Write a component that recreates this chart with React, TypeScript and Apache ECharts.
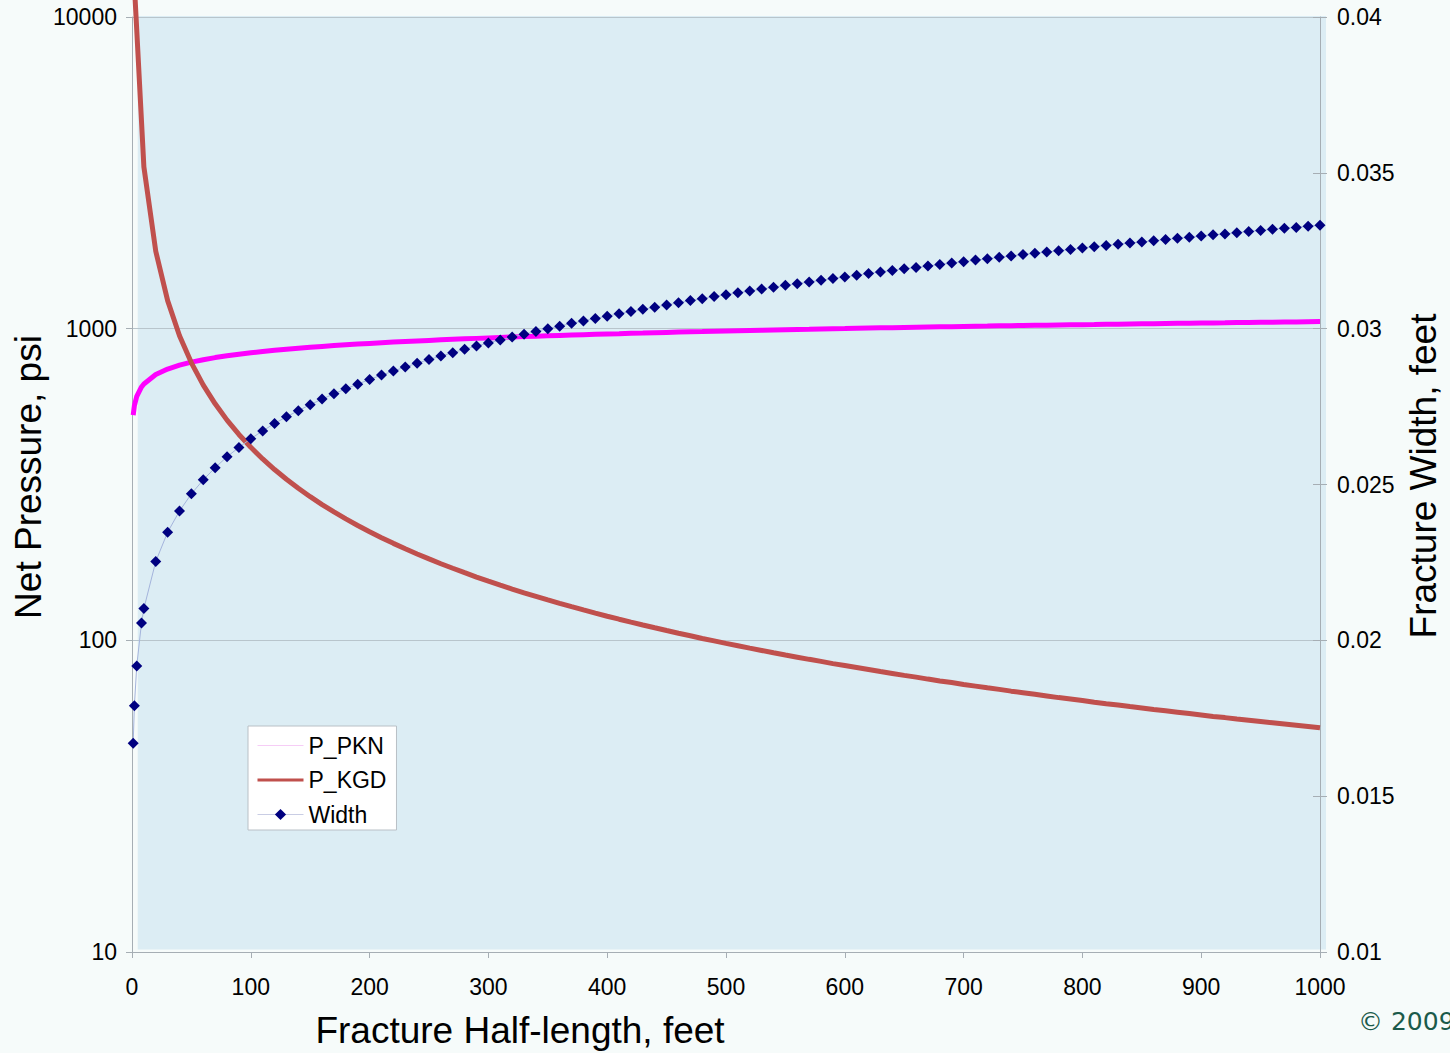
import React, { useEffect, useRef } from "react";
import * as echarts from "echarts";

// Fracture half-length (ft) for P_PKN and Width
const halfLength = [
  1, 2, 4, 8,
  10, 20, 30, 40, 50, 60, 70, 80, 90, 100,
  110, 120, 130, 140, 150, 160, 170, 180, 190, 200,
  210, 220, 230, 240, 250, 260, 270, 280, 290, 300,
  310, 320, 330, 340, 350, 360, 370, 380, 390, 400,
  410, 420, 430, 440, 450, 460, 470, 480, 490, 500,
  510, 520, 530, 540, 550, 560, 570, 580, 590, 600,
  610, 620, 630, 640, 650, 660, 670, 680, 690, 700,
  710, 720, 730, 740, 750, 760, 770, 780, 790, 800,
  810, 820, 830, 840, 850, 860, 870, 880, 890, 900,
  910, 920, 930, 940, 950, 960, 970, 980, 990, 1000,
];

// Fracture width (ft), right axis
const widthFt = [
  0.0167, 0.0179, 0.01918, 0.02056,
  0.02102, 0.02253, 0.02347, 0.02415, 0.0247, 0.02515, 0.02554, 0.02589, 0.02619, 0.02647,
  0.02672, 0.02696, 0.02717, 0.02737, 0.02756, 0.02774, 0.02791, 0.02807, 0.02822, 0.02837,
  0.02851, 0.02864, 0.02877, 0.02889, 0.02901, 0.02912, 0.02923, 0.02934, 0.02944, 0.02954,
  0.02964, 0.02973, 0.02982, 0.02991, 0.03, 0.03008, 0.03017, 0.03025, 0.03033, 0.0304,
  0.03048, 0.03055, 0.03062, 0.03069, 0.03076, 0.03083, 0.0309, 0.03096, 0.03103, 0.03109,
  0.03115, 0.03121, 0.03127, 0.03133, 0.03139, 0.03144, 0.0315, 0.03155, 0.03161, 0.03166,
  0.03171, 0.03177, 0.03182, 0.03187, 0.03192, 0.03196, 0.03201, 0.03206, 0.03211, 0.03215,
  0.0322, 0.03224, 0.03229, 0.03233, 0.03238, 0.03242, 0.03246, 0.0325, 0.03254, 0.03259,
  0.03263, 0.03267, 0.03271, 0.03275, 0.03278, 0.03282, 0.03286, 0.0329, 0.03293, 0.03297,
  0.03301, 0.03304, 0.03308, 0.03312, 0.03315, 0.03319, 0.03322, 0.03325, 0.03329, 0.03332,
];

// PKN net pressure (psi), left axis
const pPKN = [
  528, 565.9, 606.5, 650.0,
  664.7, 712.4, 741.9, 763.5, 780.8, 795.2, 807.6, 818.5, 828.1, 836.8,
  844.9, 852.2, 859.1, 865.5, 871.5, 877.1, 882.4, 887.5, 892.3, 896.9,
  901.3, 905.5, 909.5, 913.4, 917.1, 920.7, 924.2, 927.6, 930.8, 934.0,
  937.1, 940.0, 942.9, 945.8, 948.5, 951.2, 953.8, 956.3, 958.8, 961.3,
  963.6, 966.0, 968.2, 970.5, 972.7, 974.8, 976.9, 978.9, 981.0, 982.9,
  984.9, 986.8, 988.7, 990.5, 992.4, 994.2, 995.9, 997.7, 999.4, 1001.0,
  1002.7, 1004.3, 1005.9, 1007.5, 1009.1, 1010.6, 1012.1, 1013.6, 1015.1, 1016.6,
  1018.0, 1019.4, 1020.9, 1022.2, 1023.6, 1025.0, 1026.3, 1027.6, 1028.9, 1030.3,
  1031.5, 1032.8, 1034.1, 1035.3, 1036.5, 1037.7, 1038.9, 1040.1, 1041.3, 1042.5,
  1043.6, 1044.7, 1045.9, 1047.0, 1048.1, 1049.2, 1050.3, 1051.4, 1052.4, 1053.5,
];

// Half-length points for KGD
const kgdHalfLength = [
  1,
  10, 20, 30, 40, 50, 60, 70, 80, 90, 100,
  110, 120, 130, 140, 150, 160, 170, 180, 190, 200,
  210, 220, 230, 240, 250, 260, 270, 280, 290, 300,
  310, 320, 330, 340, 350, 360, 370, 380, 390, 400,
  410, 420, 430, 440, 450, 460, 470, 480, 490, 500,
  510, 520, 530, 540, 550, 560, 570, 580, 590, 600,
  610, 620, 630, 640, 650, 660, 670, 680, 690, 700,
  710, 720, 730, 740, 750, 760, 770, 780, 790, 800,
  810, 820, 830, 840, 850, 860, 870, 880, 890, 900,
  910, 920, 930, 940, 950, 960, 970, 980, 990, 1000,
];

// KGD net pressure (psi), left axis
const pKGD = [
  15000,
  3306.2, 1771.7, 1230.0, 949.4, 776.7, 659.2, 573.9, 508.9, 457.7, 416.2,
  382.0, 353.2, 328.7, 307.5, 289.0, 272.7, 258.2, 245.2, 233.6, 223.1,
  213.5, 204.7, 196.7, 189.3, 182.5, 176.1, 170.3, 164.8, 159.6, 154.9,
  150.4, 146.1, 142.1, 138.4, 134.8, 131.4, 128.2, 125.2, 122.3, 119.5,
  116.9, 114.4, 112.0, 109.7, 107.5, 105.4, 103.4, 101.4, 99.6, 97.8,
  96.1, 94.4, 92.8, 91.2, 89.7, 88.3, 86.9, 85.6, 84.2, 83.0,
  81.8, 80.6, 79.4, 78.3, 77.2, 76.2, 75.1, 74.1, 73.2, 72.2,
  71.3, 70.4, 69.6, 68.7, 67.9, 67.1, 66.3, 65.5, 64.8, 64.1,
  63.3, 62.6, 62.0, 61.3, 60.7, 60.0, 59.4, 58.8, 58.2, 57.6,
  57.0, 56.5, 55.9, 55.4, 54.9, 54.4, 53.9, 53.4, 52.9, 52.4,
];

const FONT = "'Liberation Sans', Arial, Helvetica, sans-serif";
const AXIS_GREY = "#a6aeb4";
const GRID_GREY = "#b8c5cc";

export default function App() {
  const ref = useRef<HTMLDivElement>(null);

  useEffect(() => {
    document.body.style.margin = "0";
    document.body.style.background = "#f6fbfa";
    const chart = echarts.init(ref.current as HTMLDivElement, undefined, { renderer: "svg" });

    const pknData = halfLength.map((x, i) => [x, pPKN[i]]);
    const kgdData = kgdHalfLength.map((x, i) => [x, pKGD[i]]);
    const widthData = halfLength.map((x, i) => [x, widthFt[i]]);

    const option: any = {
      animation: false,
      backgroundColor: "#f6fbfa",
      textStyle: { fontFamily: FONT },
      grid: { left: 132, right: 130, top: 17, bottom: 101, containLabel: false },
      xAxis: {
        type: "value",
        min: 0,
        max: 1000,
        interval: 100,
        axisLine: { show: true, lineStyle: { color: AXIS_GREY, width: 1 } },
        axisTick: { show: true, length: 6, lineStyle: { color: AXIS_GREY } },
        axisLabel: {
          fontSize: 23,
          color: "#000",
          margin: 23,
          fontFamily: FONT,
          formatter: (v: number) => String(v),
        },
        splitLine: { show: false },
      },
      yAxis: [
        {
          type: "log",
          logBase: 10,
          min: 10,
          max: 10000,
          position: "left",
          axisLine: { show: true, lineStyle: { color: AXIS_GREY, width: 1 } },
          axisTick: { show: true, length: 6, lineStyle: { color: AXIS_GREY } },
          axisLabel: {
            fontSize: 23,
            color: "#000",
            margin: 15,
            fontFamily: FONT,
            formatter: (v: number) => String(Math.round(v)),
          },
          splitLine: { show: true, lineStyle: { color: GRID_GREY, width: 1 } },
          minorTick: { show: false },
        },
        {
          type: "value",
          min: 0.01,
          max: 0.04,
          interval: 0.005,
          position: "right",
          axisLine: { show: true, lineStyle: { color: AXIS_GREY, width: 1 } },
          axisTick: { show: true, length: 7, lineStyle: { color: AXIS_GREY } },
          axisLabel: {
            fontSize: 23,
            color: "#000",
            margin: 17,
            fontFamily: FONT,
            formatter: (v: number) => String(+v.toFixed(3)),
          },
          splitLine: { show: false },
        },
        {
          type: "value",
          min: 0.01,
          max: 0.04,
          interval: 0.005,
          position: "right",
          axisLine: { show: false },
          axisTick: { show: true, inside: true, length: 7, lineStyle: { color: AXIS_GREY } },
          axisLabel: { show: false },
          splitLine: { show: false },
        },
      ],
      legend: {
        orient: "vertical",
        left: 248,
        top: 726,
        backgroundColor: "#ffffff",
        borderColor: "#b9c0c6",
        borderWidth: 1,
        borderRadius: 0,
        padding: [8, 10, 4, 8],
        itemGap: 11.5,
        itemWidth: 46,
        itemHeight: 14,
        textStyle: { fontSize: 23, color: "#000", fontFamily: FONT },
        data: [
          {
            name: "P_PKN",
            lineStyle: { color: "#f6cdf6", width: 1 },
            itemStyle: { opacity: 0, color: "rgba(0,0,0,0)", borderWidth: 0 },
          },
          {
            name: "P_KGD",
            lineStyle: { color: "#c0504d", width: 3 },
            itemStyle: { opacity: 0, color: "rgba(0,0,0,0)", borderWidth: 0 },
          },
          { name: "Width", lineStyle: { color: "#c9cde4", width: 1 }, itemStyle: { color: "#000080" } },
        ],
      },
      graphic: [
        {
          type: "rect",
          z: -10,
          silent: true,
          shape: { x: 137.7, y: 16, width: 1326 - 137.7, height: 949.5 - 16 },
          style: { fill: "#dcedf4" },
        },
        {
          type: "text",
          x: 28,
          y: 477,
          rotation: Math.PI / 2,
          style: {
            text: "Net Pressure, psi",
            fontSize: 37,
            fontFamily: FONT,
            fill: "#000",
            align: "center",
            verticalAlign: "middle",
          },
        },
        {
          type: "text",
          x: 1423,
          y: 476,
          rotation: Math.PI / 2,
          style: {
            text: "Fracture Width, feet",
            fontSize: 37,
            fontFamily: FONT,
            fill: "#000",
            align: "center",
            verticalAlign: "middle",
          },
        },
        {
          type: "text",
          x: 520,
          y: 1030,
          style: {
            text: "Fracture Half-length, feet",
            fontSize: 37,
            fontFamily: FONT,
            fill: "#000",
            align: "center",
            verticalAlign: "middle",
          },
        },
        {
          type: "text",
          x: 1358,
          y: 1021,
          style: {
            text: "© 2009",
            fontSize: 25,
            fontFamily: "'DejaVu Sans', Verdana, sans-serif",
            fill: "#1b5a4a",
            align: "left",
            verticalAlign: "middle",
          },
        },
      ],
      series: [
        {
          name: "P_PKN",
          type: "line",
          yAxisIndex: 0,
          data: pknData,
          symbol: "none",
          lineStyle: { color: "#ff00ff", width: 5 },
          itemStyle: { color: "#ff00ff" },
        },
        {
          name: "P_KGD",
          type: "line",
          yAxisIndex: 0,
          data: kgdData,
          symbol: "none",
          clip: false,
          lineStyle: { color: "#c0504d", width: 5 },
          itemStyle: { color: "#c0504d" },
        },
        {
          name: "Width",
          type: "line",
          yAxisIndex: 1,
          data: widthData,
          symbol: "diamond",
          symbolSize: 11,
          itemStyle: { color: "#000080" },
          lineStyle: { color: "#a4b4dc", width: 1 },
        },
      ],
    };

    chart.setOption(option);
    return () => chart.dispose();
  }, []);

  return <div ref={ref} style={{ width: 1450, height: 1053 }} />;
}
